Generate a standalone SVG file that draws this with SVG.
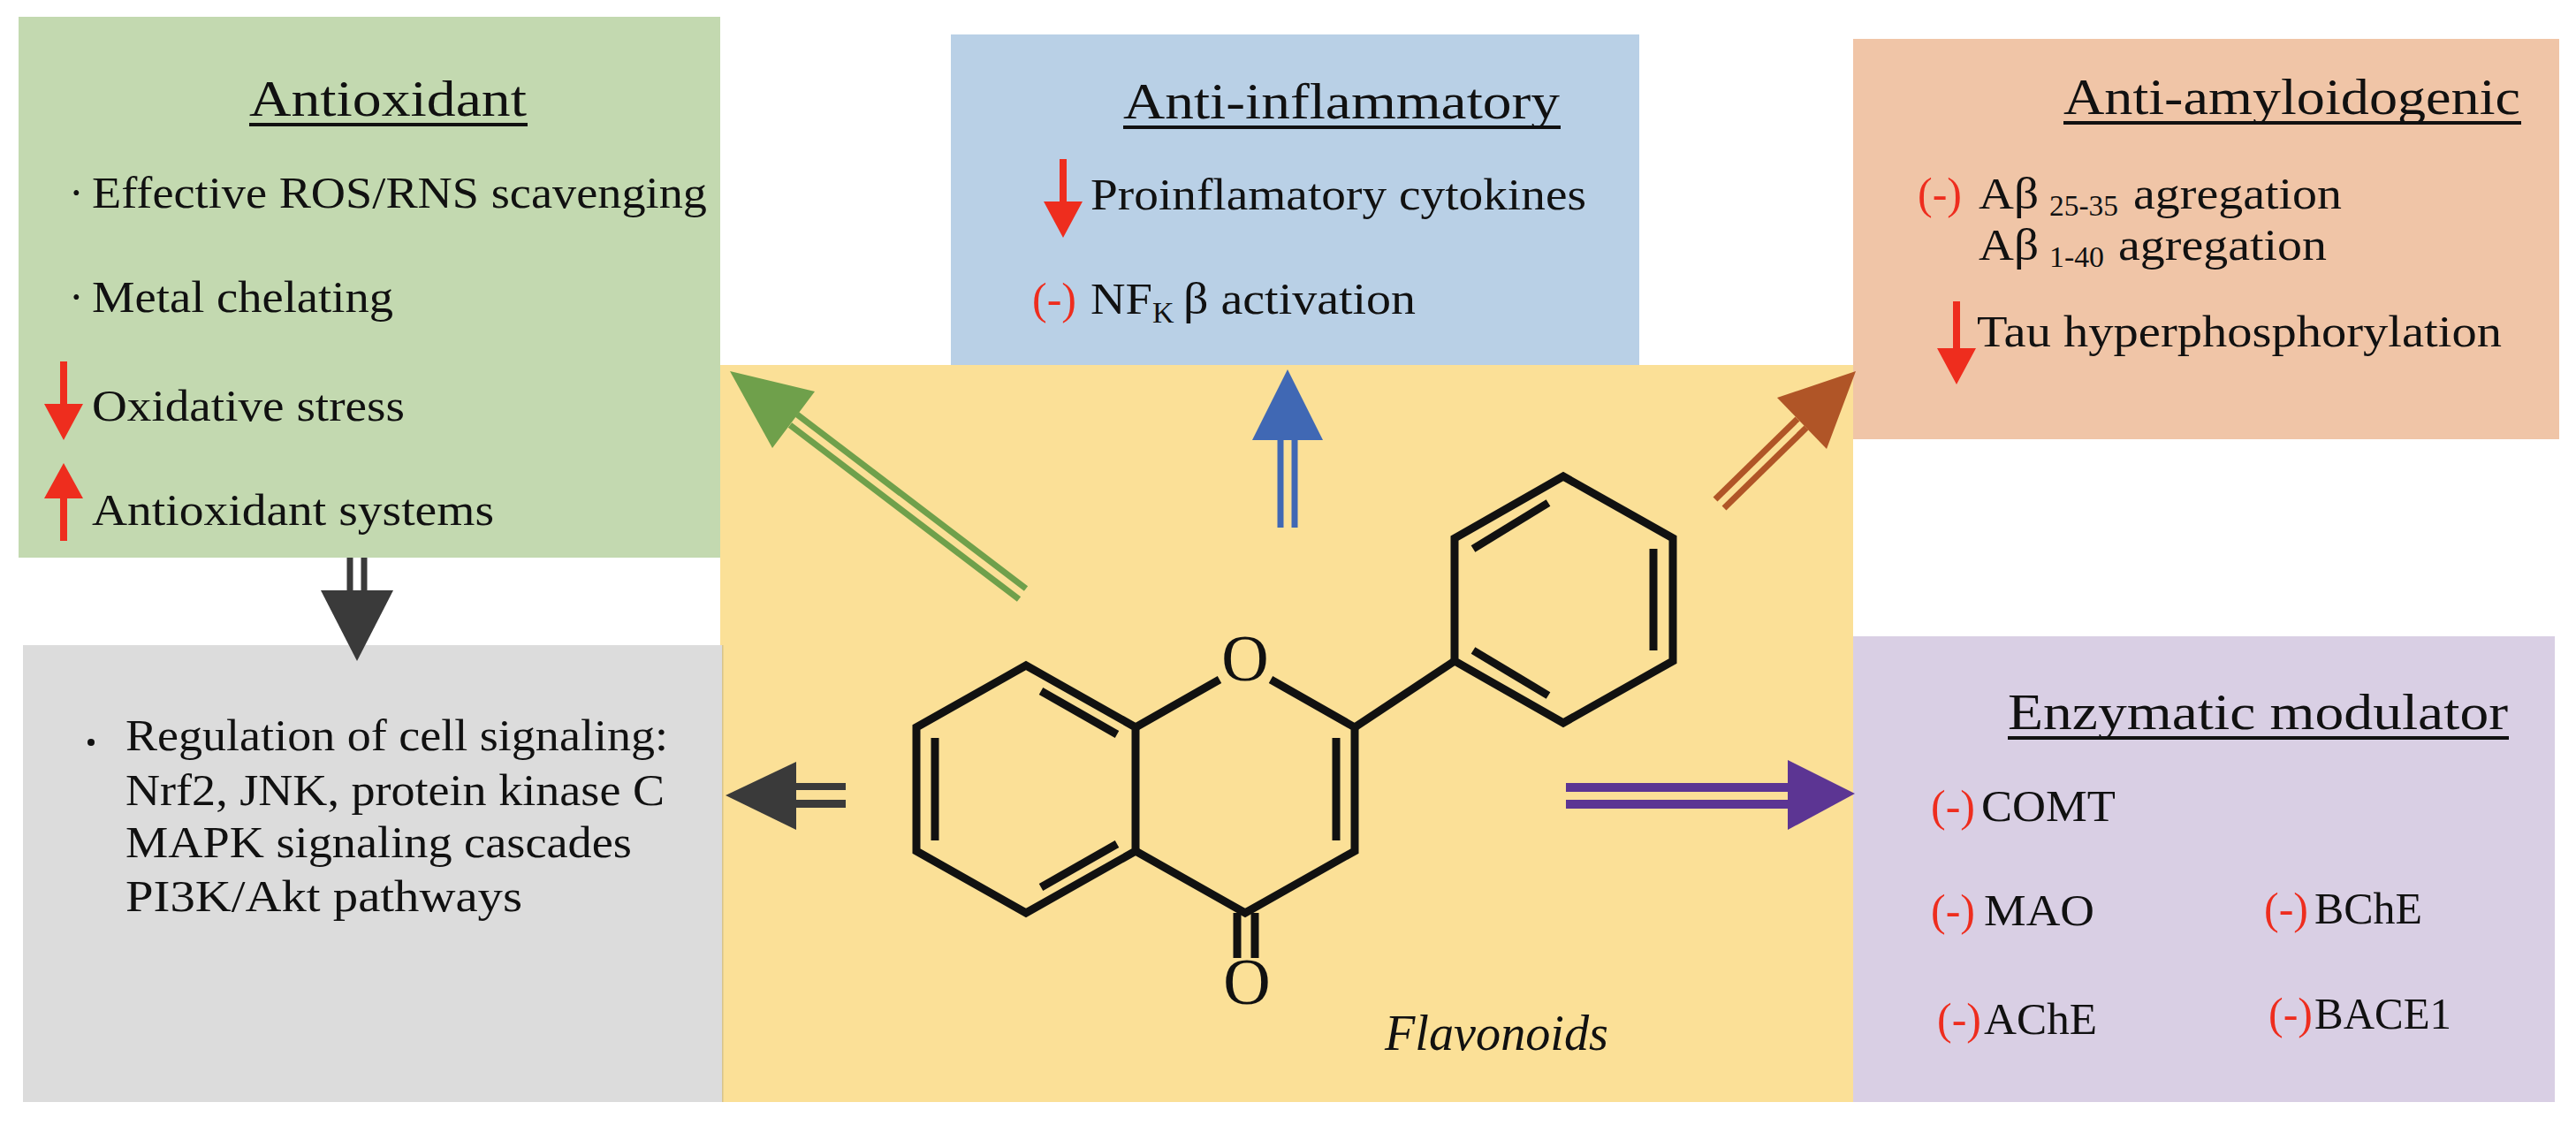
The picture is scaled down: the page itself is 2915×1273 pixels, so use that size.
<svg xmlns="http://www.w3.org/2000/svg" width="2915" height="1273" viewBox="0 0 2915 1273">
<style>
text{font-family:"Liberation Serif","DejaVu Serif",serif;fill:#111}
.t{font-size:58px}
.b{font-size:50px}
.r{fill:#ee2d1e;font-size:50px}
.ul{stroke:#111;stroke-width:4}
.bond{stroke:#111;stroke-width:9;fill:none;stroke-linejoin:miter;stroke-linecap:butt}
.red{fill:#ee2d1e}
</style>
<rect width="2915" height="1273" fill="#fff"/>
<g id="flavonoids">
<rect x="815" y="413" width="1282" height="834" fill="#fbe097"/>
<line x1="817" y1="730" x2="817" y2="1247" stroke="#d8c48a" stroke-width="3"/>
<path class="bond" d="M1161,753 L1285,823 L1285,963 L1161,1033 L1037,963 L1037,823 Z"/>
<path class="bond" d="M1285,823 L1380,769 M1438,769 L1533,823 L1533,963 L1409,1033 L1285,963"/>
<line class="bond" x1="1178" y1="782" x2="1264" y2="831"/>
<line class="bond" x1="1058" y1="835" x2="1058" y2="951"/>
<line class="bond" x1="1178" y1="1004" x2="1264" y2="955"/>
<line class="bond" x1="1512" y1="835" x2="1512" y2="951"/>
<line class="bond" x1="1400" y1="1033" x2="1400" y2="1084"/>
<line class="bond" x1="1420" y1="1033" x2="1420" y2="1084"/>
<text x="1409" y="770" font-size="74" text-anchor="middle">O</text>
<text x="1411" y="1136" font-size="74" text-anchor="middle">O</text>
<line class="bond" x1="1533" y1="823" x2="1646" y2="748"/>
<path class="bond" d="M1769,539 L1893,609 L1893,748 L1769,818 L1646,748 L1646,609 Z"/>
<line class="bond" x1="1667" y1="621" x2="1752" y2="569"/>
<line class="bond" x1="1871" y1="621" x2="1871" y2="736"/>
<line class="bond" x1="1667" y1="736" x2="1752" y2="787"/>
<text x="1567" y="1188" font-size="58" font-style="italic" textLength="253" lengthAdjust="spacingAndGlyphs">Flavonoids</text>
</g>
<g id="antioxidant">
<rect x="21" y="19" width="794" height="612" fill="#c3d9b0"/>
<text class="t" x="282" y="131" textLength="314" lengthAdjust="spacingAndGlyphs">Antioxidant</text>
<line class="ul" x1="282" y1="141" x2="597" y2="141"/>
<text class="b" x="78" y="235">·</text>
<text class="b" x="104" y="235" textLength="696" lengthAdjust="spacingAndGlyphs">Effective ROS/RNS scavenging</text>
<text class="b" x="78" y="353">·</text>
<text class="b" x="104" y="353" textLength="341" lengthAdjust="spacingAndGlyphs">Metal chelating</text>
<path class="red" d="M68,409 h8 v48 h18 l-22,41 l-22,-41 h18 z"/>
<text class="b" x="104" y="476" textLength="354" lengthAdjust="spacingAndGlyphs">Oxidative stress</text>
<path class="red" d="M68,612 h8 v-48 h18 l-22,-40 l-22,40 h18 z"/>
<text class="b" x="104" y="594" textLength="455" lengthAdjust="spacingAndGlyphs">Antioxidant systems</text>
</g>
<g id="anti-inflammatory">
<rect x="1076" y="39" width="779" height="374" fill="#b9d0e6"/>
<text class="t" x="1271" y="134" textLength="494" lengthAdjust="spacingAndGlyphs">Anti-inflammatory</text>
<line class="ul" x1="1271" y1="144" x2="1766" y2="144"/>
<path class="red" d="M1199,180 h8 v48 h18 l-22,41 l-22,-41 h18 z"/>
<text class="b" x="1234" y="237" textLength="561" lengthAdjust="spacingAndGlyphs">Proinflamatory cytokines</text>
<text class="r" x="1168" y="355">(-)</text>
<text class="b" x="1234" y="355" textLength="70" lengthAdjust="spacingAndGlyphs">NF</text>
<text x="1304" y="365" font-size="34">K</text>
<text class="b" x="1339" y="355" textLength="263" lengthAdjust="spacingAndGlyphs">β activation</text>
</g>
<g id="anti-amyloidogenic">
<rect x="2097" y="44" width="799" height="453" fill="#f0c5a7"/>
<text class="t" x="2335" y="129" textLength="517" lengthAdjust="spacingAndGlyphs">Anti-amyloidogenic</text>
<line class="ul" x1="2335" y1="139" x2="2853" y2="139"/>
<text class="r" x="2170" y="236">(-)</text>
<text class="b" x="2239" y="236" textLength="68" lengthAdjust="spacingAndGlyphs">Aβ</text>
<text x="2319" y="244" font-size="34" textLength="78" lengthAdjust="spacingAndGlyphs">25-35</text>
<text class="b" x="2414" y="236" textLength="236" lengthAdjust="spacingAndGlyphs">agregation</text>
<text class="b" x="2239" y="294" textLength="68" lengthAdjust="spacingAndGlyphs">Aβ</text>
<text x="2319" y="302" font-size="34" textLength="62" lengthAdjust="spacingAndGlyphs">1-40</text>
<text class="b" x="2397" y="294" textLength="236" lengthAdjust="spacingAndGlyphs">agregation</text>
<path class="red" d="M2210,341 h8 v53 h18 l-22,41 l-22,-41 h18 z"/>
<text class="b" x="2237" y="392" textLength="594" lengthAdjust="spacingAndGlyphs">Tau hyperphosphorylation</text>
</g>
<g id="cell-signaling">
<rect x="26" y="730" width="791" height="517" fill="#dcdcdc"/>
<circle cx="103" cy="840" r="4" fill="#111"/>
<text class="b" x="142" y="849" textLength="614" lengthAdjust="spacingAndGlyphs">Regulation of cell signaling:</text>
<text class="b" x="142" y="911" textLength="610" lengthAdjust="spacingAndGlyphs">Nrf2, JNK, protein kinase C</text>
<text class="b" x="142" y="970" textLength="573" lengthAdjust="spacingAndGlyphs">MAPK signaling cascades</text>
<text class="b" x="142" y="1031" textLength="449" lengthAdjust="spacingAndGlyphs">PI3K/Akt pathways</text>
</g>
<g id="enzymatic-modulator">
<rect x="2097" y="720" width="794" height="527" fill="#d9cfe4"/>
<text class="t" x="2272" y="825" textLength="566" lengthAdjust="spacingAndGlyphs">Enzymatic modulator</text>
<line class="ul" x1="2272" y1="835" x2="2839" y2="835"/>
<text class="r" x="2185" y="929">(-)</text>
<text class="b" x="2242" y="929" textLength="152" lengthAdjust="spacingAndGlyphs">COMT</text>
<text class="r" x="2185" y="1047">(-)</text>
<text class="b" x="2245" y="1047" textLength="125" lengthAdjust="spacingAndGlyphs">MAO</text>
<text class="r" x="2562" y="1045">(-)</text>
<text class="b" x="2619" y="1045" textLength="122" lengthAdjust="spacingAndGlyphs">BChE</text>
<text class="r" x="2192" y="1170">(-)</text>
<text class="b" x="2245" y="1170" textLength="128" lengthAdjust="spacingAndGlyphs">AChE</text>
<text class="r" x="2567" y="1164">(-)</text>
<text class="b" x="2619" y="1164" textLength="155" lengthAdjust="spacingAndGlyphs">BACE1</text>
</g>
<g id="connectors">
<g stroke="#6fa04b" stroke-width="7">
<line x1="902" y1="469" x2="1161" y2="666"/>
<line x1="894" y1="481" x2="1153" y2="678"/>
</g>
<polygon points="826,420 922,443 874,507" fill="#6fa04b"/>
<g stroke="#4068b4" stroke-width="7">
<line x1="1449" y1="495" x2="1449" y2="597"/>
<line x1="1465" y1="495" x2="1465" y2="597"/>
</g>
<polygon points="1457,418 1497,498 1417,498" fill="#4068b4"/>
<g stroke="#b05527" stroke-width="7">
<line x1="2044" y1="484" x2="1951" y2="575"/>
<line x1="2034" y1="474" x2="1941" y2="565"/>
</g>
<polygon points="2100,420 2067,508 2011,450" fill="#b05527"/>
<g stroke="#3a3a3a" stroke-width="7">
<line x1="396" y1="631" x2="396" y2="670"/>
<line x1="412" y1="631" x2="412" y2="670"/>
</g>
<polygon points="363,668 445,668 404,748" fill="#3a3a3a"/>
<rect x="899" y="886" width="58" height="8" fill="#3a3a3a"/>
<rect x="899" y="905" width="58" height="9" fill="#3a3a3a"/>
<polygon points="821,900 901,862 901,939" fill="#3a3a3a"/>
<rect x="1772" y="886" width="253" height="10" fill="#5c3593"/>
<rect x="1772" y="905" width="253" height="10" fill="#5c3593"/>
<polygon points="2023,860 2099,898 2023,939" fill="#5c3593"/>
</g>
</svg>
